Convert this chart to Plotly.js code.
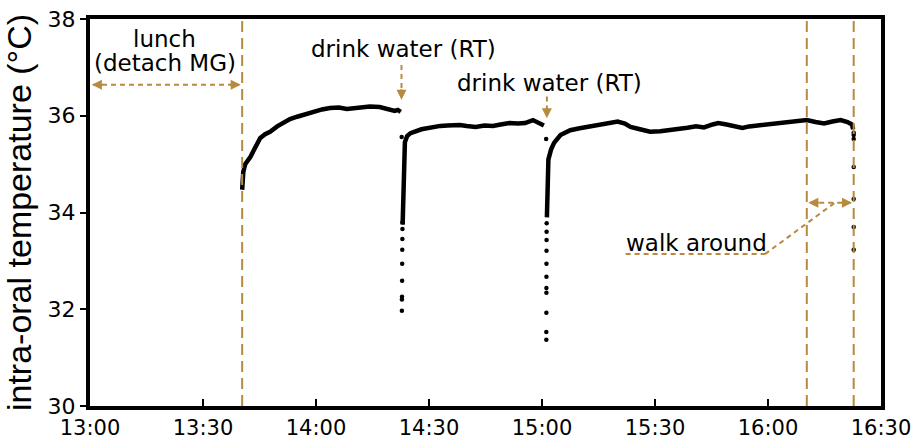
<!DOCTYPE html>
<html><head><meta charset="utf-8">
<script src="https://cdn.plot.ly/plotly-3.0.1.min.js"></script>
<style>html,body{margin:0;padding:0;background:#fff}#chart{width:912px;height:441px}</style>
</head><body><div id="chart"></div>
<script>
// time in minutes after 13:00
const tickVals = [0, 30, 60, 90, 120, 150, 180, 210];
const tickLabels = ['13:00', '13:30', '14:00', '14:30', '15:00', '15:30', '16:00', '16:30'];
const yTicks = [30, 32, 34, 36, 38];

const seg1Time = [40.4, 40.7, 41.2, 42.6, 43.9, 45.2, 46.5, 47.8, 49.7, 51.5, 53.1, 55.0, 57.1, 59.5, 61.6, 63.7, 66.1, 68.2, 70.8, 72.7, 74.3, 76.9, 78.5, 79.6, 80.9, 81.7, 82.5];
const seg1Temp = [34.47, 34.84, 35.0, 35.15, 35.35, 35.54, 35.62, 35.67, 35.78, 35.87, 35.93, 35.98, 36.03, 36.08, 36.13, 36.16, 36.17, 36.14, 36.17, 36.18, 36.19, 36.18, 36.15, 36.12, 36.10, 36.12, 36.08];

const seg2Time = [83.0, 83.1, 83.2, 83.35, 83.6, 84.2, 85.1, 88.0, 89.8, 93.0, 94.9, 98.2, 100.0, 102.4, 104.7, 107.0, 109.0, 111.4, 113.6, 115.5, 117.6, 119.0, 120.5];
const seg2Temp = [33.75, 34.3, 34.8, 35.2, 35.45, 35.58, 35.64, 35.72, 35.75, 35.79, 35.80, 35.81, 35.79, 35.77, 35.80, 35.79, 35.82, 35.85, 35.84, 35.85, 35.91, 35.85, 35.80];

const seg3Time = [121.3, 121.4, 121.5, 121.7, 122.4, 123.2, 124.9, 127.5, 130.0, 132.1, 134.4, 136.6, 138.7, 140.1, 142.0, 143.5, 146.0, 148.7, 151.4, 154.0, 156.5, 158.6, 160.9, 163.0, 165.3, 166.8, 169.0, 171.5, 173.2, 175.0, 178.1, 179.7, 183.2, 186.4, 190.3, 192.6, 194.9, 197.1, 199.3, 201.1, 202.3, 202.6];
const seg3Temp = [33.9, 34.4, 34.8, 35.1, 35.3, 35.44, 35.6, 35.70, 35.74, 35.77, 35.81, 35.85, 35.86, 35.88, 35.84, 35.77, 35.72, 35.67, 35.68, 35.70, 35.72, 35.75, 35.78, 35.76, 35.82, 35.85, 35.82, 35.78, 35.75, 35.78, 35.81, 35.83, 35.86, 35.88, 35.91, 35.87, 35.84, 35.88, 35.91, 35.87, 35.82, 35.72];

const dropTime = [82.75, 82.8, 82.81, 82.83, 82.86, 82.88, 82.9, 82.93, 82.95, 82.97,
  121.1, 121.15, 121.15, 121.16, 121.17, 121.17, 121.18, 121.19, 121.2, 121.21, 121.22, 121.24,
  202.75, 202.75, 202.75, 202.75, 202.75, 202.75, 202.75];
const dropTemp = [35.56, 31.97, 32.20, 32.26, 32.59, 32.94, 33.23, 33.45, 33.66, 33.80,
  35.52, 31.37, 31.53, 31.93, 32.34, 32.44, 32.67, 32.94, 33.21, 33.43, 33.60, 33.78,
  35.65, 35.60, 35.52, 34.94, 34.28, 33.70, 33.23];

const eventTimes = [40.4, 190.3, 202.75]; // lunch end, walk start, walk end

const gold = '#b78a3f';
const annFont = {family: 'DejaVu Sans', size: 23, color: '#000'};

const lineStyle = {color: '#000', width: 4.5};
const traces = [
  {x: seg1Time, y: seg1Temp, mode: 'lines', line: lineStyle, hoverinfo: 'skip'},
  {x: seg2Time, y: seg2Temp, mode: 'lines', line: lineStyle, hoverinfo: 'skip'},
  {x: seg3Time, y: seg3Temp, mode: 'lines', line: lineStyle, hoverinfo: 'skip'},
  {x: dropTime, y: dropTemp, mode: 'markers', marker: {color: '#000', size: 4.5}, hoverinfo: 'skip'}
];

const shapes = eventTimes.map(t => ({type: 'line', xref: 'x', yref: 'paper', x0: t, x1: t, y0: 0, y1: 1,
  line: {color: gold, width: 2, dash: '11px,6px'}}));
const dashed = {color: gold, width: 2, dash: '5px,4px'};
shapes.push(
  {type: 'line', x0: 0.8, x1: 39.6, y0: 36.64, y1: 36.64, line: dashed},
  {type: 'line', x0: 191.2, x1: 201.9, y0: 34.2, y1: 34.2, line: dashed},
  {type: 'line', x0: 142.2, x1: 179.2, y0: 33.14, y1: 33.14, line: dashed},
  {type: 'line', x0: 179.2, x1: 197.7, y0: 33.14, y1: 34.2, line: dashed},
  {type: 'line', x0: 82.7, x1: 82.7, y0: 37.05, y1: 36.5, line: dashed},
  {type: 'line', x0: 121.3, x1: 121.3, y0: 36.4, y1: 36.1, line: dashed}
);

function head(x, y, ax, ay) {
  return {x: x, y: y, ax: ax, ay: ay, text: '', showarrow: true, arrowhead: 2, arrowsize: 1, arrowwidth: 2, arrowcolor: gold};
}
const annotations = [
  {x: 19.8, y: 37.59, text: 'lunch', showarrow: false, font: annFont},
  {x: 19.8, y: 37.09, text: '(detach MG)', showarrow: false, font: annFont},
  {x: 83.26, y: 37.38, text: 'drink water (RT)', showarrow: false, font: annFont},
  {x: 122.0, y: 36.68, text: 'drink water (RT)', showarrow: false, font: annFont},
  {x: 161.0, y: 33.37, text: 'walk around', showarrow: false, font: annFont},
  head(0.5, 36.64, 12, 0), head(40.0, 36.64, -12, 0),
  head(190.7, 34.2, 12, 0), head(202.3, 34.2, -12, 0),
  head(82.7, 36.33, 0, -12), head(121.3, 35.95, 0, -12)
];

const layout = {
  width: 912, height: 441,
  margin: {l: 90, r: 31, t: 19, b: 35},
  paper_bgcolor: '#fff', plot_bgcolor: '#fff',
  showlegend: false,
  xaxis: {range: [0, 210], tickvals: tickVals, ticktext: tickLabels, ticks: 'inside', ticklen: 7, tickwidth: 2,
    tickcolor: '#000', showgrid: false, zeroline: false, showline: true, mirror: true, linewidth: 4, linecolor: '#000',
    ticklabelstandoff: 0, ticklabeloverflow: 'allow',
    tickfont: {family: 'DejaVu Sans', size: 21, color: '#000'}},
  yaxis: {range: [30, 38], tickvals: yTicks, ticks: 'outside', ticklen: 6, tickwidth: 2, tickcolor: '#000',
    showgrid: false, zeroline: false, showline: true, mirror: true, linewidth: 4, linecolor: '#000',
    tickfont: {family: 'DejaVu Sans', size: 22, color: '#000'},
    title: {text: 'intra-oral temperature (°C)', standoff: 8, font: {family: 'Liberation Sans, Arial', size: 34, color: '#000'}}},
  shapes: shapes,
  annotations: annotations
};

Plotly.newPlot('chart', traces, layout, {displayModeBar: false, staticPlot: true});
</script>
</body></html>
